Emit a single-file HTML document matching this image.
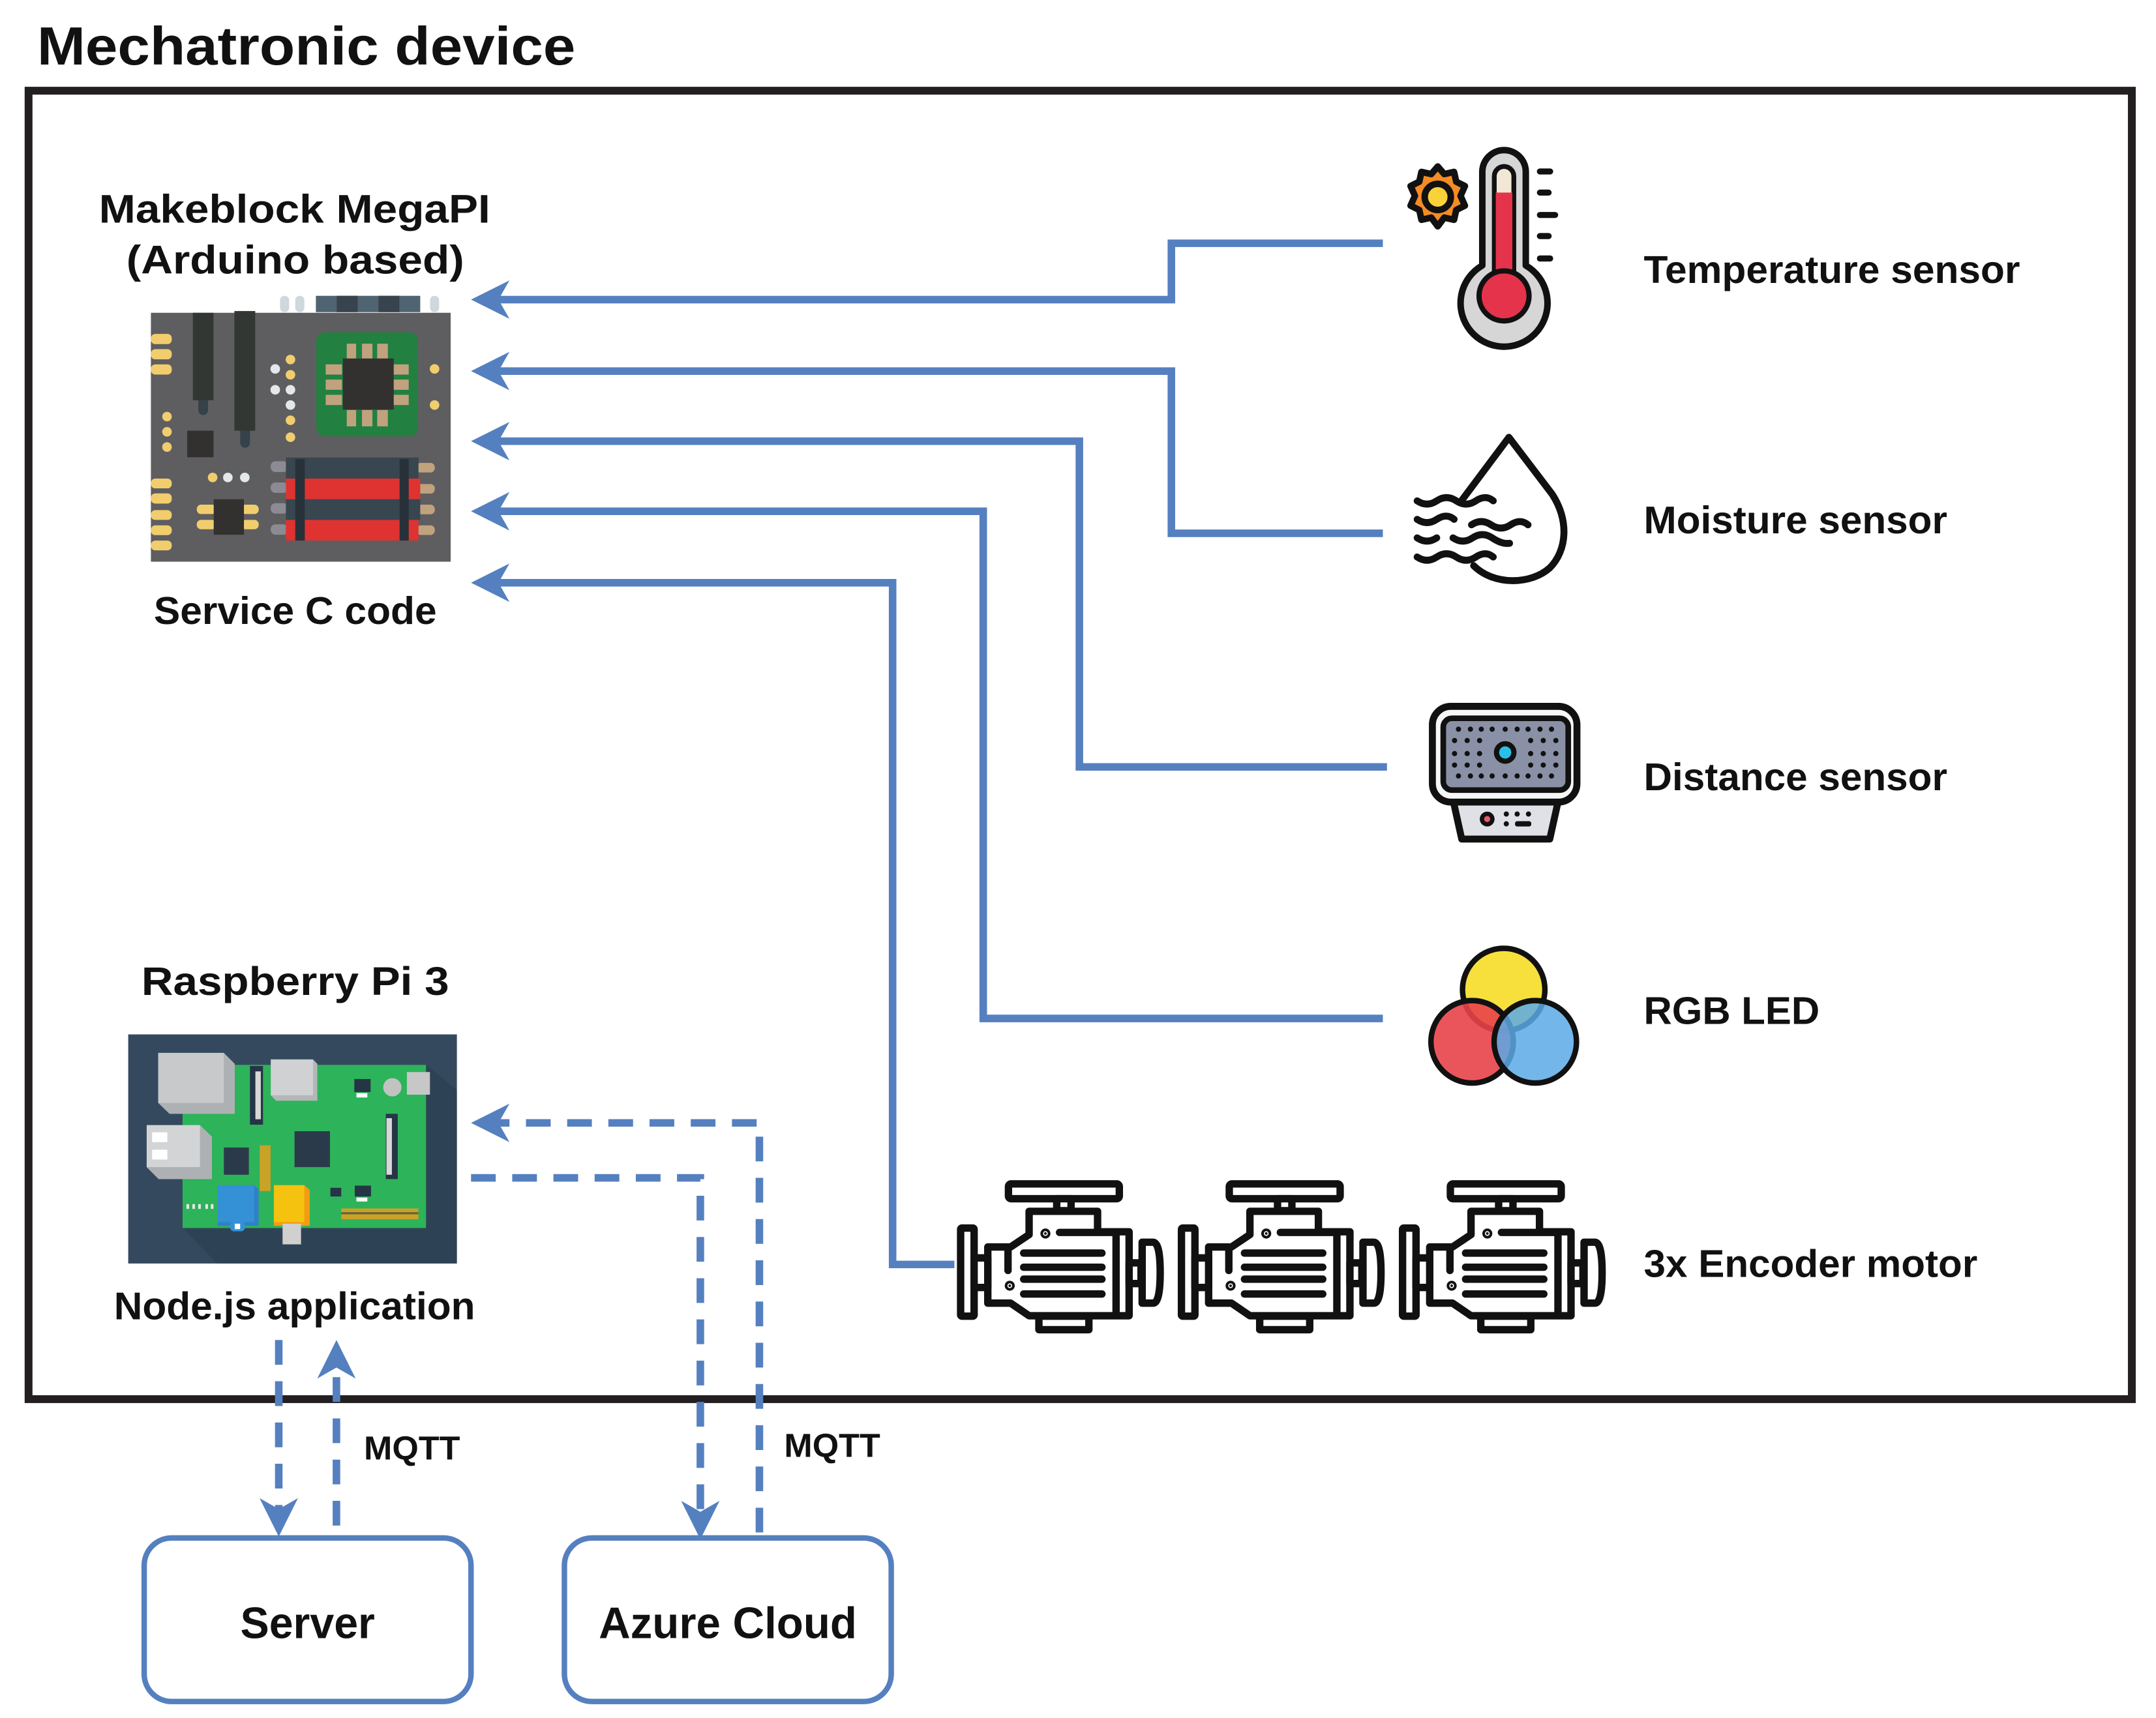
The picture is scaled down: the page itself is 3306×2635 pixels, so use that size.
<!DOCTYPE html>
<html><head><meta charset="utf-8"><style>
html,body{margin:0;padding:0;background:#fff}
svg{display:block}
text{font-family:"Liberation Sans",sans-serif;fill:#111}
</style></head><body>
<svg width="3306" height="2635" viewBox="0 0 1570 1250" preserveAspectRatio="none" xmlns="http://www.w3.org/2000/svg">
<defs>
<g id="motor" fill="none" stroke="#111" stroke-width="34" stroke-linejoin="round" stroke-linecap="round">
<rect x="260" y="72" width="510" height="68" rx="12" fill="#fff"/>
<rect x="482" y="140" width="66" height="55" fill="#fff"/>
<path d="M355 198 H670 V292 H815 V678 H355 L270 620 H165 V362 H270 L355 305 Z" fill="#fff"/>
<line x1="755" y1="300" x2="755" y2="670"/>
<line x1="330" y1="390" x2="690" y2="390"/><line x1="330" y1="455" x2="690" y2="455"/><line x1="330" y1="510" x2="690" y2="510"/><line x1="330" y1="578" x2="690" y2="578"/>
<line x1="495" y1="295" x2="750" y2="295"/>
<line x1="258" y1="370" x2="258" y2="470"/>
<rect x="40" y="275" width="62" height="405" rx="6" fill="#fff"/>
<rect x="102" y="412" width="63" height="136" fill="#fff"/>
<rect x="815" y="435" width="55" height="95" fill="#fff"/>
<path d="M875 340 H925 Q958 340 958 480 Q958 620 925 620 H875 Z" fill="#fff"/>
<rect x="400" y="680" width="230" height="62" fill="#fff"/>
<circle cx="430" cy="300" r="6" fill="#111"/><circle cx="266" cy="540" r="6" fill="#111"/>
</g>
</defs>
<text x="27" y="47" font-size="39" font-weight="bold" textLength="392" lengthAdjust="spacingAndGlyphs">Mechatronic device</text>
<rect x="20.8" y="66" width="1531.6" height="952" fill="none" stroke="#231f20" stroke-width="5.7"/>

<text x="72" y="162" font-size="29" font-weight="bold" textLength="285" lengthAdjust="spacingAndGlyphs">Makeblock MegaPI</text>
<text x="92" y="199" font-size="29" font-weight="bold" textLength="246" lengthAdjust="spacingAndGlyphs">(Arduino based)</text>

<!-- MegaPI board -->
<g transform="translate(104.5,208.9) scale(0.1583)">
<rect x="628" y="40" width="42" height="75" rx="20" fill="#cfd8dc"/>
<rect x="698" y="40" width="42" height="75" rx="20" fill="#cfd8dc"/>
<rect x="1318" y="40" width="42" height="75" rx="20" fill="#cfd8dc"/>
<rect x="793" y="40" width="480" height="75" fill="#4f6370"/>
<rect x="889" y="40" width="96" height="75" fill="#37434d"/>
<rect x="1081" y="40" width="96" height="75" fill="#37434d"/>
<rect x="34" y="118" width="1379" height="1144" fill="#5e5e60"/>
<rect x="252" y="500" width="45" height="88" rx="22" fill="#36424a"/>
<rect x="445" y="640" width="45" height="98" rx="22" fill="#36424a"/>
<rect x="227" y="118" width="95" height="402" fill="#333734"/>
<rect x="418" y="110" width="96" height="550" fill="#333734"/>
<g fill="#f2cd6e">
<rect x="34" y="215" width="96" height="47" rx="20"/><rect x="34" y="285" width="96" height="47" rx="20"/><rect x="34" y="355" width="96" height="47" rx="20"/>
<rect x="34" y="880" width="96" height="45" rx="20"/><rect x="34" y="948" width="96" height="47" rx="20"/><rect x="34" y="1025" width="96" height="45" rx="20"/><rect x="34" y="1095" width="96" height="45" rx="20"/><rect x="34" y="1165" width="96" height="45" rx="20"/>
<circle cx="108" cy="595" r="22"/><circle cx="108" cy="665" r="22"/><circle cx="108" cy="735" r="22"/>
<circle cx="676" cy="333" r="22"/><circle cx="676" cy="403" r="22"/><circle cx="676" cy="612" r="22"/><circle cx="676" cy="690" r="22"/>
<circle cx="1339" cy="376" r="22"/><circle cx="1339" cy="542" r="22"/><circle cx="318" cy="875" r="22"/>
<rect x="245" y="1000" width="90" height="43" rx="20"/><rect x="245" y="1070" width="90" height="43" rx="20"/>
<rect x="450" y="1000" width="80" height="43" rx="20"/><rect x="450" y="1070" width="80" height="43" rx="20"/>
</g>
<g fill="#e4e8ea">
<circle cx="606" cy="376" r="22"/><circle cx="606" cy="472" r="22"/><circle cx="676" cy="472" r="22"/><circle cx="676" cy="542" r="22"/>
<circle cx="388" cy="875" r="22"/><circle cx="466" cy="875" r="22"/>
</g>
<rect x="201" y="660" width="121" height="122" fill="#323130"/>
<rect x="323" y="975" width="139" height="163" fill="#323130"/>
<rect x="795" y="208" width="468" height="478" rx="40" fill="#228040"/>
<g fill="#c0a27e">
<rect x="935" y="260" width="43" height="75"/><rect x="1005" y="260" width="48" height="75"/><rect x="1075" y="260" width="49" height="75"/>
<rect x="935" y="565" width="43" height="75"/><rect x="1005" y="565" width="48" height="75"/><rect x="1075" y="565" width="49" height="75"/>
<rect x="838" y="355" width="75" height="47"/><rect x="838" y="425" width="75" height="47"/><rect x="838" y="495" width="75" height="47"/>
<rect x="1145" y="355" width="75" height="47"/><rect x="1145" y="425" width="75" height="47"/><rect x="1145" y="495" width="75" height="47"/>
<rect x="1255" y="808" width="85" height="44" rx="20"/><rect x="1255" y="905" width="85" height="44" rx="20"/><rect x="1255" y="1000" width="85" height="44" rx="20"/><rect x="1255" y="1095" width="85" height="44" rx="20"/>
</g>
<rect x="917" y="328" width="234" height="235" fill="#323130"/>
<g fill="#8c8a92">
<rect x="585" y="800" width="80" height="50" rx="22"/><rect x="585" y="898" width="80" height="48" rx="22"/><rect x="585" y="993" width="80" height="48" rx="22"/><rect x="585" y="1090" width="80" height="48" rx="22"/>
</g>
<rect x="655" y="783" width="610" height="97" fill="#384650"/>
<rect x="655" y="880" width="618" height="95" fill="#de3330"/>
<rect x="655" y="975" width="618" height="95" fill="#384650"/>
<rect x="655" y="1070" width="610" height="95" fill="#de3330"/>
<rect x="698" y="790" width="44" height="375" fill="#28313a"/>
<rect x="1178" y="790" width="42" height="375" fill="#28313a"/>
</g>
<text x="112" y="454" font-size="28" font-weight="bold" textLength="206" lengthAdjust="spacingAndGlyphs">Service C code</text>

<text x="103" y="724" font-size="29" font-weight="bold" textLength="224" lengthAdjust="spacingAndGlyphs">Raspberry Pi 3</text>
<!-- Raspberry Pi -->
<g transform="translate(90.2,745.5) scale(0.1583)">
<rect x="20" y="45" width="1512" height="1053" fill="#34495e"/>
<path d="M270 935 L430 1098 H1532 V300 L1390 185 Z" fill="#2c3e50" opacity="0.6"/>
<rect x="270" y="185" width="1120" height="750" fill="#2db35a"/>
<path d="M158 130 H460 L510 180 V410 H210 L158 360 Z" fill="#aeb1b4"/>
<rect x="158" y="130" width="302" height="230" fill="#c7c9cb"/>
<path d="M105 462 H350 L405 515 V710 H160 L105 655 Z" fill="#aeb1b4"/>
<rect x="105" y="462" width="245" height="193" fill="#d2d4d6"/>
<rect x="130" y="495" width="70" height="45" fill="#fff"/><rect x="130" y="575" width="70" height="45" fill="#fff"/>
<path d="M676 160 H870 L890 180 V350 H700 L676 325 Z" fill="#b4b6b8"/>
<rect x="676" y="160" width="194" height="165" fill="#cfd1d3"/>
<rect x="580" y="190" width="60" height="270" fill="#263545"/><rect x="605" y="215" width="25" height="220" fill="#d8d8d8"/>
<rect x="1205" y="410" width="55" height="300" fill="#263545"/><rect x="1208" y="430" width="25" height="260" fill="#d8d8d8"/>
<circle cx="1235" cy="288" r="42" fill="#c2c2c2"/>
<rect x="1302" y="218" width="106" height="104" fill="#c7c7c7"/>
<rect x="1060" y="250" width="75" height="60" fill="#263545"/><rect x="1070" y="315" width="50" height="20" fill="#fff"/>
<rect x="785" y="490" width="163" height="165" fill="#2b3a4a"/>
<rect x="460" y="565" width="115" height="125" fill="#2b3a4a"/>
<rect x="625" y="555" width="50" height="210" fill="#c9a227"/>
<path d="M432 738 H600 L620 758 V925 H432 Z" fill="#2f80c8"/>
<rect x="432" y="738" width="168" height="170" fill="#3491d6"/>
<rect x="488" y="905" width="70" height="45" rx="20" fill="#3491d6"/><rect x="510" y="915" width="25" height="25" fill="#fff"/>
<path d="M690 738 H830 L855 760 V925 H690 Z" fill="#f39c12"/>
<rect x="690" y="738" width="140" height="170" fill="#f4c20f"/>
<rect x="730" y="915" width="85" height="95" fill="#d0d0d0"/>
<rect x="1000" y="845" width="355" height="50" fill="#c9a227"/>
<rect x="1000" y="862" width="355" height="10" fill="#2b3a4a" opacity="0.6"/>
<rect x="950" y="750" width="50" height="40" fill="#263545"/>
<rect x="1062" y="740" width="75" height="50" fill="#263545"/><rect x="1070" y="795" width="50" height="18" fill="#fff"/>
<g fill="#e8e8e8"><rect x="288" y="825" width="12" height="22"/><rect x="315" y="825" width="12" height="22"/><rect x="342" y="825" width="12" height="22"/><rect x="375" y="825" width="12" height="22"/><rect x="400" y="825" width="12" height="22"/></g>
</g>
<text x="83" y="960" font-size="28" font-weight="bold" textLength="263" lengthAdjust="spacingAndGlyphs">Node.js application</text>

<g fill="none" stroke="#5580c0" stroke-width="5.5">
<path d="M1007 177 H853 V218 H360"/>
<path d="M1007 388 H853 V270 H360"/>
<path d="M1010 558 H786 V321 H360"/>
<path d="M1007 741 H716 V372 H360"/>
<path d="M695 920 H650 V424 H360"/>
<g stroke-dasharray="18 12">
<path d="M553 1115 V817 H362"/>
<path d="M343 857 H510 V1100"/>
<path d="M203 975 V1100"/>
<path d="M245 1110 V995"/>
</g>
</g>
<g fill="#5580c0">
<path d="M343 218 l28 -14 l-8 14 l8 14 z"/>
<path d="M343 270 l28 -14 l-8 14 l8 14 z"/>
<path d="M343 321 l28 -14 l-8 14 l8 14 z"/>
<path d="M343 372 l28 -14 l-8 14 l8 14 z"/>
<path d="M343 424 l28 -14 l-8 14 l8 14 z"/>
<path d="M343 817 l28 -14 l-8 14 l8 14 z"/>
<path d="M510 1120 l-14 -28 l14 8 l14 -8 z"/>
<path d="M203 1118 l-14 -28 l14 8 l14 -8 z"/>
<path d="M245 975 l-14 28 l14 -8 l14 8 z"/>
</g>
<text x="265" y="1062" font-size="24" font-weight="bold" textLength="70" lengthAdjust="spacingAndGlyphs">MQTT</text>
<text x="571" y="1060" font-size="24" font-weight="bold" textLength="70" lengthAdjust="spacingAndGlyphs">MQTT</text>

<rect x="105" y="1119" width="238" height="119" rx="20" fill="#fff" stroke="#5580c0" stroke-width="4"/>
<rect x="411" y="1119" width="238" height="119" rx="20" fill="#fff" stroke="#5580c0" stroke-width="4"/>
<text x="175" y="1192" font-size="32" font-weight="bold" textLength="98" lengthAdjust="spacingAndGlyphs">Server</text>
<text x="436" y="1192" font-size="32" font-weight="bold" textLength="188" lengthAdjust="spacingAndGlyphs">Azure Cloud</text>

<g font-size="28" font-weight="bold">
<text x="1197" y="206" textLength="274" lengthAdjust="spacingAndGlyphs">Temperature sensor</text>
<text x="1197" y="388" textLength="221" lengthAdjust="spacingAndGlyphs">Moisture sensor</text>
<text x="1197" y="575" textLength="221" lengthAdjust="spacingAndGlyphs">Distance sensor</text>
<text x="1197" y="745" textLength="128" lengthAdjust="spacingAndGlyphs">RGB LED</text>
<text x="1197" y="929" textLength="243" lengthAdjust="spacingAndGlyphs">3x Encoder motor</text>
</g>

<!-- thermometer -->
<g transform="translate(1016.1,104.5) scale(0.1583)" stroke="#111" stroke-width="30" stroke-linejoin="round">
<polygon points="195,105 225,140 270,130 280,175 320,195 300,240 320,285 280,305 270,350 225,340 195,380 165,340 120,350 110,305 70,285 90,240 70,195 110,175 120,130 165,140" fill="#f58b25"/>
<circle cx="195" cy="245" r="60" fill="#f9d13a"/>
<path d="M400 560 V130 A100 100 0 0 1 600 130 V560 A200 200 0 1 1 400 560 Z" fill="#d6d6d6"/>
<path d="M455 590 V150 A45 45 0 0 1 545 150 V590" fill="#f2e6d6" stroke-width="22"/>
<path d="M462 225 H538 V600 H462 Z" fill="#e5334c" stroke="none"/>
<circle cx="500" cy="700" r="115" fill="#e5334c" stroke-width="24"/>
<g stroke-width="28" stroke-linecap="round"><line x1="665" y1="128" x2="712" y2="128"/><line x1="665" y1="225" x2="705" y2="225"/><line x1="665" y1="328" x2="735" y2="328"/><line x1="665" y1="425" x2="705" y2="425"/><line x1="665" y1="528" x2="712" y2="528"/></g>
</g>

<!-- drop -->
<g transform="translate(1020.9,308.7) scale(0.1583)" fill="none" stroke="#111" stroke-width="32" stroke-linecap="round" stroke-linejoin="round">
<path d="M275 350 L492 60 L690 320 C770 440 760 580 680 660 C590 740 420 740 330 650"/>
<path d="M70 352 q45 30 90 0 t90 0 t90 0 t80 0"/>
<path d="M70 437 q45 30 90 0 t80 0"/>
<path d="M320 462 q45 -30 90 0 t90 0 t80 0"/>
<path d="M70 522 q45 30 90 0"/>
<path d="M235 522 q45 30 90 0 t90 0 t80 25"/>
<path d="M70 610 q45 30 90 0 t90 0 t90 0 t80 0"/>
</g>

<!-- distance sensor -->
<g transform="translate(1030.4,507.6) scale(0.1583)" stroke="#111" stroke-linejoin="round">
<path d="M175 470 H660 L620 650 H215 Z" fill="#dfe1e6" stroke-width="32"/>
<rect x="80" y="40" width="665" height="440" rx="85" fill="#f6f8f8" stroke-width="32"/>
<rect x="130" y="95" width="575" height="330" rx="40" fill="#8a91a6" stroke-width="26"/>
<g fill="#111" stroke="none">
<g id="dr"><circle cx="200" cy="145" r="12"/><circle cx="255" cy="145" r="12"/><circle cx="305" cy="145" r="12"/><circle cx="355" cy="145" r="12"/><circle cx="415" cy="145" r="12"/><circle cx="470" cy="145" r="12"/><circle cx="520" cy="145" r="12"/><circle cx="575" cy="145" r="12"/><circle cx="628" cy="145" r="12"/></g>
<use href="#dr" y="215"/>
<circle cx="182" cy="197" r="12"/><circle cx="240" cy="197" r="12"/><circle cx="297" cy="197" r="12"/><circle cx="532" cy="197" r="12"/><circle cx="590" cy="197" r="12"/><circle cx="648" cy="197" r="12"/>
<circle cx="182" cy="257" r="12"/><circle cx="240" cy="257" r="12"/><circle cx="297" cy="257" r="12"/><circle cx="532" cy="257" r="12"/><circle cx="590" cy="257" r="12"/><circle cx="648" cy="257" r="12"/>
<circle cx="182" cy="310" r="12"/><circle cx="240" cy="310" r="12"/><circle cx="297" cy="310" r="12"/><circle cx="532" cy="310" r="12"/><circle cx="590" cy="310" r="12"/><circle cx="648" cy="310" r="12"/>
<circle cx="420" cy="535" r="12"/><circle cx="470" cy="535" r="12"/><circle cx="522" cy="535" r="12"/><circle cx="420" cy="580" r="12"/>
<rect x="460" y="568" width="75" height="24" rx="10"/>
</g>
<circle cx="415" cy="252" r="40" fill="#29c0e8" stroke-width="24"/>
<circle cx="332" cy="558" r="24" fill="#e85a6a" stroke-width="20"/>
</g>

<!-- RGB -->
<circle cx="1095" cy="720" r="30" fill="#f7e03c" stroke="#111" stroke-width="4"/>
<circle cx="1072" cy="758" r="30" fill="#e8434a" fill-opacity="0.9" stroke="#111" stroke-width="4"/>
<circle cx="1118" cy="758" r="30" fill="#5aa9e6" fill-opacity="0.85" stroke="#111" stroke-width="4"/>
<!-- motors -->
<use href="#motor" transform="translate(693.2,850) scale(0.1583)"/>
<use href="#motor" transform="translate(854,850) scale(0.1583)"/>
<use href="#motor" transform="translate(1015,850) scale(0.1583)"/>
</svg>
</body></html>
